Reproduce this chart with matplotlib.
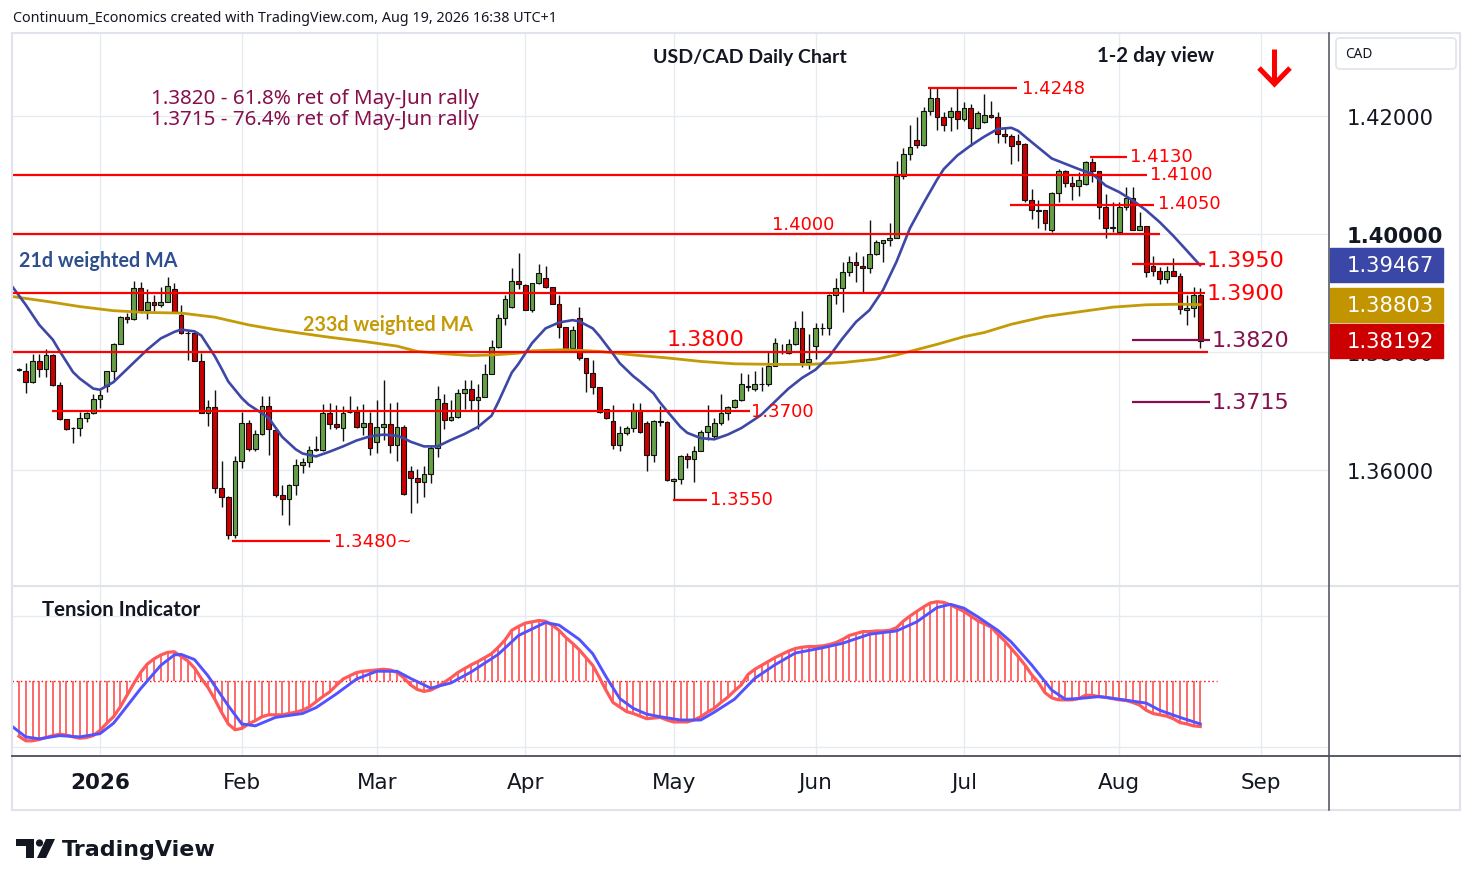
import numpy as np
import matplotlib
matplotlib.use("Agg")
import matplotlib.pyplot as plt
from matplotlib.patches import Rectangle, FancyBboxPatch, Polygon, Circle
from matplotlib.lines import Line2D
import matplotlib.transforms as mtransforms

# ---------------- DATA ----------------
# bar index 0 = first trading day of 2026 (daily USD/CAD bars, index -12 .. 163)
first_bar = -12
opens = [
    1.3770, 1.3767, 1.3749, 1.3785, 1.3771, 1.3795, 1.3744, 1.3686, 1.3671, 1.3671, 1.3688, 1.3696,
    1.3720, 1.3743, 1.3767, 1.3814, 1.3859, 1.3856, 1.3909, 1.3871, 1.3885, 1.3879,
    1.3885, 1.3907, 1.3863, 1.3832, 1.3832, 1.3785, 1.3696, 1.3707, 1.3570, 1.3555,
    1.3490, 1.3615, 1.3680, 1.3636, 1.3661, 1.3709, 1.3668, 1.3558, 1.3551, 1.3575,
    1.3609, 1.3614, 1.3634, 1.3634, 1.3696, 1.3678, 1.3671, 1.3698, 1.3698, 1.3673,
    1.3680, 1.3647, 1.3673, 1.3678, 1.3643, 1.3673, 1.3599, 1.3586, 1.3580, 1.3593,
    1.3637, 1.3714, 1.3685, 1.3690, 1.3731, 1.3737, 1.3719, 1.3724, 1.3763, 1.3809,
    1.3858, 1.3876, 1.3921, 1.3914, 1.3871, 1.3917, 1.3925, 1.3910, 1.3881, 1.3842,
    1.3807, 1.3858, 1.3790, 1.3764, 1.3741, 1.3703, 1.3683, 1.3643, 1.3663, 1.3671,
    1.3701, 1.3680, 1.3626, 1.3683, 1.3682, 1.3581, 1.3585, 1.3623, 1.3619, 1.3633,
    1.3664, 1.3657, 1.3679, 1.3696, 1.3707, 1.3719, 1.3742, 1.3738, 1.3745, 1.3746,
    1.3777, 1.3801, 1.3799, 1.3814, 1.3840, 1.3783, 1.3810, 1.3840, 1.3840, 1.3896,
    1.3908, 1.3936, 1.3952, 1.3946, 1.3942, 1.3966, 1.3985, 1.3989, 1.3994, 1.4098,
    1.4135, 1.4160, 1.4150, 1.4208, 1.4230, 1.4199, 1.4199, 1.4208, 1.4195, 1.4213,
    1.4179, 1.4189, 1.4202, 1.4198, 1.4170, 1.4166, 1.4157, 1.4153, 1.4057, 1.4040,
    1.4040, 1.4007, 1.4070, 1.4106, 1.4086, 1.4082, 1.4085, 1.4122, 1.4106, 1.4045,
    1.4011, 1.4004, 1.4045, 1.4061, 1.4007, 1.4013, 1.3945, 1.3938, 1.3924, 1.3938,
    1.3929, 1.3872, 1.3874, 1.3896,
]
highs = [
    1.3773, 1.3781, 1.3797, 1.3796, 1.3805, 1.3797, 1.3750, 1.3687, 1.3673, 1.3699, 1.3699, 1.3729,
    1.3735, 1.3768, 1.3816, 1.3861, 1.3866, 1.3920, 1.3918, 1.3906, 1.3897, 1.3911,
    1.3927, 1.3917, 1.3879, 1.3838, 1.3833, 1.3798, 1.3719, 1.3736, 1.3615, 1.3556,
    1.3623, 1.3699, 1.3684, 1.3668, 1.3725, 1.3725, 1.3670, 1.3575, 1.3576, 1.3619,
    1.3620, 1.3640, 1.3657, 1.3712, 1.3714, 1.3711, 1.3708, 1.3725, 1.3708, 1.3712,
    1.3699, 1.3719, 1.3753, 1.3714, 1.3715, 1.3677, 1.3606, 1.3601, 1.3606, 1.3640,
    1.3742, 1.3729, 1.3719, 1.3737, 1.3752, 1.3752, 1.3746, 1.3780, 1.3821, 1.3865,
    1.3896, 1.3942, 1.3967, 1.3915, 1.3917, 1.3949, 1.3946, 1.3911, 1.3897, 1.3843,
    1.3844, 1.3876, 1.3790, 1.3787, 1.3741, 1.3704, 1.3710, 1.3674, 1.3675, 1.3714,
    1.3714, 1.3683, 1.3685, 1.3708, 1.3683, 1.3586, 1.3626, 1.3629, 1.3640, 1.3668,
    1.3711, 1.3688, 1.3728, 1.3708, 1.3720, 1.3765, 1.3763, 1.3768, 1.3774, 1.3800,
    1.3823, 1.3814, 1.3822, 1.3853, 1.3870, 1.3830, 1.3850, 1.3850, 1.3898, 1.3925,
    1.3952, 1.3963, 1.3969, 1.3963, 1.4023, 1.3990, 1.3990, 1.4019, 1.4123, 1.4145,
    1.4184, 1.4198, 1.4216, 1.4247, 1.4248, 1.4206, 1.4215, 1.4247, 1.4224, 1.4220,
    1.4209, 1.4237, 1.4226, 1.4206, 1.4181, 1.4170, 1.4170, 1.4154, 1.4076, 1.4058,
    1.4041, 1.4071, 1.4110, 1.4109, 1.4099, 1.4105, 1.4124, 1.4128, 1.4107, 1.4068,
    1.4054, 1.4054, 1.4079, 1.4079, 1.4037, 1.4014, 1.3963, 1.3944, 1.3946, 1.3959,
    1.3934, 1.3896, 1.3910, 1.3908,
]
lows = [
    1.3767, 1.3731, 1.3748, 1.3758, 1.3758, 1.3743, 1.3685, 1.3668, 1.3645, 1.3658, 1.3681, 1.3695,
    1.3705, 1.3733, 1.3753, 1.3813, 1.3850, 1.3855, 1.3866, 1.3856, 1.3869, 1.3877,
    1.3884, 1.3866, 1.3831, 1.3787, 1.3784, 1.3696, 1.3674, 1.3561, 1.3538, 1.3483,
    1.3484, 1.3603, 1.3633, 1.3632, 1.3660, 1.3626, 1.3555, 1.3524, 1.3507, 1.3557,
    1.3595, 1.3605, 1.3633, 1.3633, 1.3670, 1.3670, 1.3649, 1.3697, 1.3671, 1.3660,
    1.3626, 1.3629, 1.3651, 1.3629, 1.3616, 1.3558, 1.3527, 1.3544, 1.3555, 1.3578,
    1.3622, 1.3670, 1.3683, 1.3688, 1.3703, 1.3702, 1.3670, 1.3723, 1.3762, 1.3807,
    1.3846, 1.3875, 1.3906, 1.3871, 1.3867, 1.3916, 1.3909, 1.3881, 1.3824, 1.3804,
    1.3805, 1.3787, 1.3732, 1.3728, 1.3697, 1.3686, 1.3636, 1.3632, 1.3660, 1.3664,
    1.3663, 1.3599, 1.3613, 1.3674, 1.3582, 1.3551, 1.3577, 1.3603, 1.3579, 1.3632,
    1.3651, 1.3654, 1.3677, 1.3685, 1.3705, 1.3717, 1.3734, 1.3734, 1.3734, 1.3742,
    1.3776, 1.3797, 1.3797, 1.3812, 1.3774, 1.3772, 1.3788, 1.3828, 1.3828, 1.3881,
    1.3867, 1.3928, 1.3919, 1.3902, 1.3934, 1.3964, 1.3952, 1.3980, 1.3993, 1.4093,
    1.4126, 1.4145, 1.4149, 1.4201, 1.4177, 1.4175, 1.4175, 1.4178, 1.4192, 1.4150,
    1.4178, 1.4188, 1.4197, 1.4155, 1.4155, 1.4119, 1.4124, 1.4055, 1.4025, 1.4011,
    1.4007, 1.4004, 1.4055, 1.4079, 1.4057, 1.4065, 1.4083, 1.4088, 1.4025, 1.3993,
    1.4003, 1.4003, 1.4040, 1.4006, 1.4006, 1.3927, 1.3929, 1.3915, 1.3917, 1.3929,
    1.3864, 1.3846, 1.3859, 1.3806,
]
closes = [
    1.3771, 1.3749, 1.3784, 1.3771, 1.3795, 1.3744, 1.3686, 1.3670, 1.3672, 1.3688, 1.3696, 1.3720,
    1.3727, 1.3767, 1.3814, 1.3859, 1.3856, 1.3909, 1.3871, 1.3885, 1.3879, 1.3885,
    1.3912, 1.3867, 1.3832, 1.3833, 1.3785, 1.3697, 1.3707, 1.3570, 1.3555, 1.3490,
    1.3615, 1.3680, 1.3636, 1.3661, 1.3709, 1.3670, 1.3558, 1.3551, 1.3575, 1.3609,
    1.3614, 1.3634, 1.3635, 1.3696, 1.3678, 1.3673, 1.3697, 1.3699, 1.3673, 1.3680,
    1.3637, 1.3673, 1.3678, 1.3643, 1.3673, 1.3559, 1.3586, 1.3580, 1.3593, 1.3637,
    1.3720, 1.3685, 1.3690, 1.3731, 1.3737, 1.3719, 1.3724, 1.3763, 1.3809, 1.3858,
    1.3889, 1.3921, 1.3915, 1.3872, 1.3917, 1.3934, 1.3911, 1.3882, 1.3842, 1.3807,
    1.3838, 1.3790, 1.3764, 1.3741, 1.3698, 1.3688, 1.3643, 1.3663, 1.3671, 1.3701,
    1.3664, 1.3626, 1.3683, 1.3682, 1.3583, 1.3585, 1.3623, 1.3619, 1.3633, 1.3664,
    1.3674, 1.3679, 1.3696, 1.3707, 1.3719, 1.3745, 1.3741, 1.3745, 1.3746, 1.3777,
    1.3815, 1.3800, 1.3814, 1.3840, 1.3783, 1.3788, 1.3840, 1.3841, 1.3896, 1.3908,
    1.3936, 1.3952, 1.3948, 1.3942, 1.3966, 1.3987, 1.3990, 1.3994, 1.4098, 1.4135,
    1.4147, 1.4150, 1.4208, 1.4230, 1.4199, 1.4185, 1.4208, 1.4195, 1.4213, 1.4179,
    1.4205, 1.4202, 1.4198, 1.4170, 1.4166, 1.4149, 1.4153, 1.4057, 1.4040, 1.4039,
    1.4019, 1.4070, 1.4106, 1.4086, 1.4082, 1.4092, 1.4122, 1.4106, 1.4045, 1.4010,
    1.4012, 1.4045, 1.4061, 1.4007, 1.4013, 1.3935, 1.3938, 1.3924, 1.3938, 1.3929,
    1.3873, 1.3874, 1.3896, 1.38192,
]

# 21d weighted MA
ma21_idx = [-13, -11, -9, -7, -6, -4, -3, -1, 0, 2, 4, 7, 9, 11, 12, 14, 15, 17, 18, 19,
            21, 22, 24, 25, 27, 29, 30, 32, 34, 36, 38, 40, 42, 44, 45, 46, 48, 50, 52, 54,
            56, 58, 59, 61, 62, 64, 66, 68, 70, 71, 73, 74, 76, 77, 79, 80, 82, 83, 84, 86,
            87, 89, 91, 93, 95, 97, 98, 100, 102, 104, 106, 108, 110, 112, 114, 116, 118, 120, 122, 124,
            125, 127, 129, 131, 133, 135, 136, 138, 141, 143, 145, 147, 149, 151, 153, 155, 157, 159, 161, 163]
ma21_val = [1.3911, 1.3880, 1.3846, 1.3821, 1.3802, 1.3766, 1.3755, 1.3738, 1.3736, 1.3749,
            1.3771, 1.3804, 1.3823, 1.3834, 1.3838, 1.3835, 1.3828, 1.3793, 1.3772, 1.3750,
            1.3722, 1.3711, 1.3696, 1.3688, 1.3656, 1.3635, 1.3628, 1.3623, 1.3631, 1.3640,
            1.3650, 1.3657, 1.3660, 1.3658, 1.3654, 1.3648, 1.3640, 1.3640, 1.3651, 1.3661,
            1.3673, 1.3692, 1.3715, 1.3765, 1.3780, 1.3815, 1.3840, 1.3850, 1.3854, 1.3852,
            1.3840, 1.3827, 1.3797, 1.3781, 1.3759, 1.3750, 1.3730, 1.3714, 1.3700, 1.3673,
            1.3663, 1.3654, 1.3652, 1.3660, 1.3671, 1.3686, 1.3694, 1.3716, 1.3738, 1.3756,
            1.3770, 1.3792, 1.3823, 1.3851, 1.3871, 1.3905, 1.3953, 1.4010, 1.4052, 1.4092,
            1.4110, 1.4133, 1.4150, 1.4165, 1.4178, 1.4180, 1.4175, 1.4156, 1.4128, 1.4119,
            1.4110, 1.4102, 1.4082, 1.4071, 1.4057, 1.4040, 1.4020, 1.3997, 1.3972, 1.39467]

# 233d weighted MA
ma233_idx = [-13, -8, -3, 2, 7, 12, 17, 22, 26, 29, 34, 39, 44, 47, 51, 55, 58, 62, 64, 69,
             74, 79, 84, 89, 94, 100, 105, 110, 115, 118, 121, 124, 128, 131, 135, 140, 145, 150, 155, 160, 163]
ma233_val = [1.3894, 1.3886, 1.3877, 1.3870, 1.3867, 1.3866, 1.3859, 1.3846, 1.3838, 1.3833,
             1.3825, 1.3818, 1.3810, 1.3801, 1.3797, 1.3794, 1.3795, 1.3798, 1.3802, 1.3804,
             1.3801, 1.3795, 1.3790, 1.3784, 1.3780, 1.3779, 1.3779, 1.3782, 1.3788, 1.3795,
             1.3804, 1.3813, 1.3826, 1.3833, 1.3847, 1.3860, 1.3868, 1.3876, 1.3880, 1.3881, 1.38803]

# Tension indicator (red line per bar, -12..163) and its smoothed signal (blue)
tension = [
    -0.85, -0.92, -0.92, -0.90, -0.87, -0.84, -0.82, -0.83, -0.86, -0.88, -0.87, -0.84,
    -0.76, -0.65, -0.55, -0.40, -0.22, -0.04, 0.13, 0.26, 0.34, 0.40,
    0.44, 0.45, 0.38, 0.31, 0.20, 0.04, -0.10, -0.28, -0.48, -0.66,
    -0.75, -0.73, -0.66, -0.61, -0.55, -0.52, -0.52, -0.52, -0.50, -0.48,
    -0.45, -0.40, -0.32, -0.24, -0.17, -0.07, 0.03, 0.08, 0.13, 0.15,
    0.16, 0.17, 0.18, 0.17, 0.13, 0.05, -0.06, -0.13, -0.16, -0.14,
    -0.09, -0.02, 0.05, 0.13, 0.19, 0.25, 0.30, 0.36, 0.42, 0.52,
    0.63, 0.78, 0.84, 0.89, 0.91, 0.93, 0.92, 0.86, 0.78, 0.67,
    0.58, 0.48, 0.36, 0.24, 0.05, -0.15, -0.33, -0.40, -0.47, -0.50,
    -0.54, -0.58, -0.57, -0.56, -0.60, -0.63, -0.63, -0.63, -0.60, -0.55,
    -0.48, -0.42, -0.33, -0.25, -0.15, -0.06, 0.10, 0.18, 0.24, 0.30,
    0.36, 0.41, 0.46, 0.50, 0.52, 0.53, 0.53, 0.54, 0.56, 0.59,
    0.64, 0.70, 0.73, 0.76, 0.76, 0.77, 0.77, 0.78, 0.82, 0.92,
    1.00, 1.07, 1.14, 1.20, 1.22, 1.21, 1.17, 1.12, 1.07, 1.00,
    0.93, 0.88, 0.83, 0.72, 0.62, 0.50, 0.38, 0.25, 0.10, -0.02,
    -0.18, -0.26, -0.29, -0.29, -0.29, -0.27, -0.22, -0.22, -0.24, -0.25,
    -0.27, -0.29, -0.30, -0.33, -0.37, -0.45, -0.50, -0.52, -0.54, -0.58,
    -0.64, -0.66, -0.69, -0.70,
]
signal_idx = [-13, -11, -9, -6, -3, 0, 2, 3, 6, 9, 11, 12, 14, 16, 19, 21, 23, 26, 30, 32,
              35, 38, 41, 44, 46, 49, 52, 55, 59, 62, 66, 68, 71, 73, 75, 77, 79, 81, 83, 86,
              89, 91, 94, 97, 100, 103, 107, 110, 114, 118, 121, 124, 126, 128, 130, 133, 135, 138, 141, 143,
              145, 148, 151, 155, 157, 160, 163]
signal_val = [-0.70, -0.86, -0.89, -0.84, -0.86, -0.81, -0.65, -0.52, -0.12, 0.24, 0.40, 0.41,
              0.33, 0.08, -0.38, -0.66, -0.69, -0.56, -0.50, -0.41, -0.20, 0.03, 0.15, 0.15,
              0.04, -0.11, -0.03, 0.14, 0.41, 0.70, 0.90, 0.86, 0.64, 0.42, 0.06, -0.27,
              -0.42, -0.51, -0.55, -0.60, -0.60, -0.48, -0.28, 0.04, 0.25, 0.43, 0.51, 0.58,
              0.72, 0.77, 0.91, 1.13, 1.18, 1.12, 0.99, 0.78, 0.60, 0.25, -0.14, -0.28,
              -0.27, -0.24, -0.28, -0.34, -0.45, -0.56, -0.66]

month_pos = [0, 21, 41, 63, 85, 106, 128, 151, 172]
month_lbl = ["2026", "Feb", "Mar", "Apr", "May", "Jun", "Jul", "Aug", "Sep"]
price_ticks = [1.36, 1.38, 1.40, 1.42]

# red support/resistance levels: (price, start bar, end bar, label, label bar, label price, size)
levels = [
    (1.4248, 122.7, 135.9, "1.4248", 136.6, 1.4248, 13),
    (1.4130, 146.7, 152.1, "1.4130", 152.6, 1.4133, 13),
    (1.4100, -13.1, 155.1, "1.4100", 155.6, 1.4101, 13),
    (1.4050, 134.8, 156.1, "1.4050", 156.7, 1.4052, 13),
    (1.4000, -13.1, 157.0, "1.4000", 99.6, 1.4017, 13),
    (1.3950, 152.9, 163.7, "1.3950", 163.9, 1.3956, 16),
    (1.3900, -13.1, 163.7, "1.3900", 163.9, 1.3900, 16),
    (1.3800, -13.1, 164.1, "1.3800", 84.0, 1.3822, 16),
    (1.3700, -7.1, 96.3, "1.3700", 96.5, 1.3700, 13),
    (1.3550, 84.9, 89.9, "1.3550", 90.4, 1.3551, 13),
    (1.3480, 19.6, 34.1, "1.3480~", 34.6, 1.3480, 13),
]
# retracement levels (purple)
retr = [
    (1.3820, 152.9, 164.4, "1.3820", 164.7),
    (1.3716, 152.9, 164.4, "1.3715", 164.7),
]
last_vals = [(1.39467, "#3a47a6"), (1.38803, "#c29400"), (1.38192, "#cc0000")]

# ---------------- STYLE ----------------
W, H = 1474, 887
GREEN = "#65a048"
CRED = "#cc0000"
LRED = "#ff0000"
PURP = "#860f4c"
BLUE = "#3d48a6"
GOLD = "#c49a06"
GRID = "#e6ebf1"
TXT = "#131722"
WORD = ["Noto Sans", "DejaVu Sans"]
BOLDW = ["Lato", "DejaVu Sans"]
NUM = ["DejaVu Sans"]

fig = plt.figure(figsize=(W / 100, H / 100), dpi=100)
fig.patch.set_facecolor("white")

def fx(px):
    return px / W

def fy(py):
    return 1 - py / H

XL = ((12 - 100) / 6.75, (1329 - 100) / 6.75)
ax = fig.add_axes([fx(12), fy(586), fx(1329) - fx(12), fy(35) - fy(586)])
axl = fig.add_axes([fx(12), fy(757), fx(1329) - fx(12), fy(587) - fy(757)])
for a in (ax, axl):
    a.set_xlim(*XL)
    for s in a.spines.values():
        s.set_visible(False)
    a.set_facecolor("none")
ax.set_ylim(1.40 - 351 / 5900, 1.40 + 200 / 5900)
axl.set_ylim((682 - 757) / 65, (682 - 587) / 65)

# grids
ax.set_xticks(month_pos)
ax.set_xticklabels([])
ax.tick_params(axis="x", length=0)
ax.grid(True, color=GRID, lw=1.0, zorder=0)
ax.set_axisbelow(True)
ax.yaxis.tick_right()
ax.set_yticks(price_ticks)
ax.set_yticklabels([f"{p:.5f}" for p in price_ticks], family=NUM, fontsize=15.2, color=TXT)
ax.tick_params(axis="y", length=0, pad=13)
for lbl in ax.get_yticklabels():
    if lbl.get_text() == "1.40000":
        lbl.set_fontweight("bold")

axl.set_xticks(month_pos)
axl.set_xticklabels(month_lbl, family=NUM, fontsize=15.5, color=TXT)
axl.get_xticklabels()[0].set_fontweight("bold")
axl.tick_params(axis="x", length=0, pad=11.8)
axl.set_yticks([(682 - 748) / 65, (682 - 617) / 65])
axl.tick_params(axis="y", left=False, labelleft=False)
axl.grid(True, color=GRID, lw=1.0)
axl.set_axisbelow(True)

# ---------------- CANDLES ----------------
o = np.array(opens); h = np.array(highs); l = np.array(lows); c = np.array(closes)
x = np.arange(first_bar, first_bar + len(o))
cols = np.where(c >= o, GREEN, CRED)
ax.vlines(x, l, h, color="#111111", lw=1.0, zorder=2)
bot = np.minimum(o, c)
hgt = np.maximum(np.abs(c - o), 0.00005)
ax.bar(x, hgt, bottom=bot, width=0.7, color=cols, edgecolor="#111111", linewidth=0.8, zorder=2.5)

# moving averages
ax.plot(ma233_idx, ma233_val, color=GOLD, lw=2.0, zorder=3, solid_capstyle="round")
ax.plot(ma21_idx, ma21_val, color=BLUE, lw=1.9, zorder=3.1, solid_capstyle="round")

# levels
for p, x0, x1, lab, lx, ly, fs in levels:
    ax.hlines(p, x0, x1, color=LRED, lw=1.6, zorder=4)
    ax.text(lx, ly, lab, color=LRED, fontsize=fs, family=NUM, va="center", ha="left", zorder=6)
for p, x0, x1, lab, lx in retr:
    ax.hlines(p, x0, x1, color=PURP, lw=1.6, zorder=4)
    ax.text(lx, p, lab, color=PURP, fontsize=16, family=NUM, va="center", ha="left", zorder=6)

# last-value boxes on the price scale
btr = mtransforms.blended_transform_factory(ax.transAxes, ax.transData)
bw = (1443 - 1330) / (1329 - 12)
bh = 34 / 5900
for v, col in last_vals:
    r = Rectangle((1.0008, v - bh / 2), bw, bh, transform=btr, clip_on=False,
                  facecolor=col, edgecolor=col, zorder=10)
    ax.add_patch(r)
    ax.text(1.0132, v, f"{v:.5f}", transform=btr, color="white", fontsize=15.2, family=NUM,
            va="center", ha="left", zorder=11, clip_on=False)

# MA labels
ax.text(-12.0, 1.3950 + 0.0006, "21d weighted MA", color="#2e4f8e", fontsize=14.2, family=BOLDW,
        fontweight="bold", va="center", ha="left", zorder=6)
ax.text(30.1, 1.3848, "233d weighted MA", color=GOLD, fontsize=14.2, family=BOLDW,
        fontweight="bold", va="center", ha="left", zorder=6)

# ---------------- TENSION INDICATOR ----------------
t = np.array(tension)
xt = np.arange(first_bar, first_bar + len(t))
axl.vlines(xt, 0, t, color="#ff4f4f", lw=1.2, zorder=2)
axl.plot(xt, t, color="#ff5a5a", lw=2.3, zorder=3)
axl.plot(signal_idx, signal_val, color="#5252ff", lw=2.1, zorder=4)
axl.hlines(0, XL[0], 165.5, color=LRED, lw=1.0, linestyles=(0, (1, 2)), zorder=1.5)
axl.text((42 - 100) / 6.75, (682 - 610) / 65, "Tension Indicator", color=TXT, fontsize=14.7,
         family=BOLDW, fontweight="bold", va="center", ha="left")

# ---------------- OVERLAY (frame, headers, logo) ----------------
ov = fig.add_axes([0, 0, 1, 1])
ov.set_xlim(0, W); ov.set_ylim(H, 0)
ov.axis("off")
ov.set_facecolor("none")
frame = "#e0e3eb"
ov.add_patch(Rectangle((12, 34), 1448, 777, fill=False, edgecolor=frame, lw=1.5))
ov.add_line(Line2D([12, 1460], [586.5, 586.5], color=frame, lw=1.5))
ov.add_line(Line2D([12, 1460], [757, 757], color="#4a4e59", lw=1.3))
ov.add_line(Line2D([1329.5, 1329.5], [34, 811], color="#4a4e59", lw=1.1))

ov.text(13, 19, "Continuum_Economics created with TradingView.com, Aug 19, 2026 16:38 UTC+1",
        fontsize=10.3, family=WORD, color=TXT, va="center", ha="left")
ov.text(653, 57, "USD/CAD Daily Chart", fontsize=14.0, family=BOLDW, fontweight="bold",
        color=TXT, va="center", ha="left")
ov.text(1097, 56, "1-2 day view", fontsize=14.7, family=BOLDW, fontweight="bold",
        color=TXT, va="center", ha="left")
ov.text(151, 99, "1.3820 - 61.8% ret of May-Jun rally", fontsize=14.8, family=WORD,
        color=PURP, va="center", ha="left")
ov.text(151, 120, "1.3715 - 76.4% ret of May-Jun rally", fontsize=14.8, family=WORD,
        color=PURP, va="center", ha="left")

# down arrow
ov.add_line(Line2D([1274.5, 1274.5], [50, 84], color=LRED, lw=3.6, solid_capstyle="butt"))
ov.add_line(Line2D([1259, 1274.5, 1290], [69, 85, 69], color=LRED, lw=3.6,
                   solid_joinstyle="miter", solid_capstyle="butt"))

# CAD currency box
ov.add_patch(FancyBboxPatch((1336, 39), 120, 31, boxstyle="round,pad=0,rounding_size=4",
                            facecolor="white", edgecolor=frame, lw=1.2))
ov.text(1345, 55, "CAD", fontsize=9.8, family=WORD, color=TXT, va="center", ha="left")

# TradingView logo
ov.add_patch(Polygon([[16, 840], [34, 840], [34, 859], [26, 859], [26, 847], [16, 847]],
                     closed=True, facecolor="#131722", edgecolor="none"))
ov.add_patch(Circle((39.5, 844), 3.6, facecolor="#131722", edgecolor="none"))
ov.add_patch(Polygon([[46, 840], [55, 840], [46, 859], [37, 859]], closed=True,
                     facecolor="#131722", edgecolor="none"))
ov.text(62, 850, "TradingView", fontsize=15.9, family=NUM, fontweight="bold",
        color="#131722", va="center", ha="left")

fig.savefig("out.png", dpi=100, facecolor="white")
